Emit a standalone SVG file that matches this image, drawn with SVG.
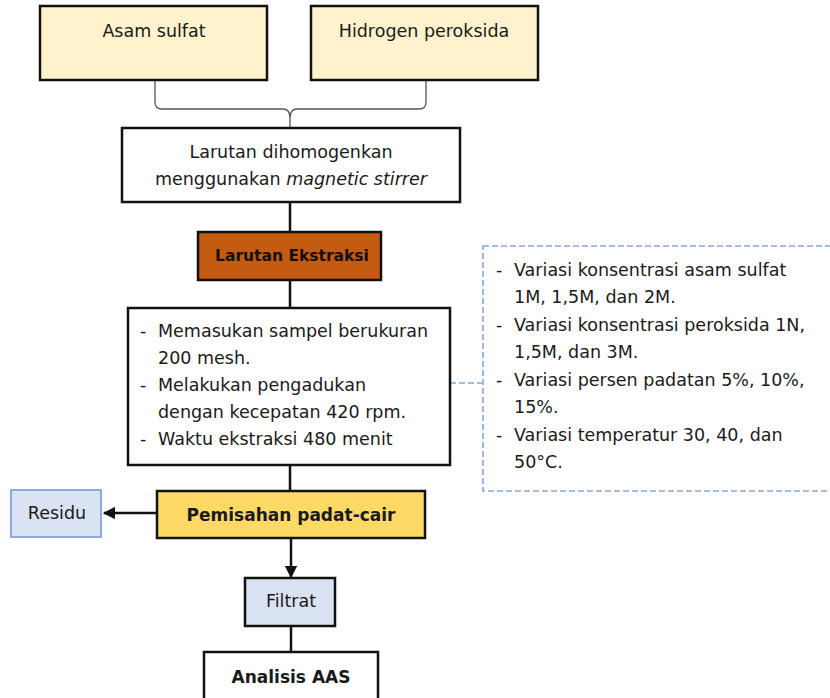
<svg xmlns="http://www.w3.org/2000/svg" width="830" height="698" viewBox="0 0 830 698">
<defs>
<style>
text{font-family:"DejaVu Sans","Liberation Sans",sans-serif;font-size:17.5px;fill:#1a1a1a}
.b{font-weight:bold;font-size:17px}
.box{stroke:#111;stroke-width:2.5}
.ln{stroke:#111;stroke-width:2.5;fill:none}
.dash{fill:none;stroke:#86A5E0;stroke-width:1.6;stroke-dasharray:6,3}
</style>
<marker id="ah" viewBox="0 0 10 10" refX="9" refY="5" markerWidth="5" markerHeight="5" orient="auto" markerUnits="strokeWidth"><path d="M0,0 L10,5 L0,10 z" fill="#111"/></marker>
</defs>
<rect width="830" height="698" fill="#fff"/>
<g id="connectors">
<path d="M155,80 V102 Q155,109 162,109 H283 Q290,109 290,118 V128 M426,80 V102 Q426,109 419,109 H297 Q290,109 290,118" fill="none" stroke="#555" stroke-width="1.3"/>
<line class="ln" x1="290" y1="202" x2="290" y2="232"/>
<line class="ln" x1="290" y1="280" x2="290" y2="308"/>
<line class="ln" x1="290" y1="465" x2="290" y2="491"/>
<line class="dash" x1="450" y1="383" x2="483" y2="383"/>
<line class="ln" x1="157" y1="513" x2="104" y2="513" marker-end="url(#ah)"/>
<line class="ln" x1="291" y1="538" x2="291" y2="577" marker-end="url(#ah)"/>
<line class="ln" x1="291" y1="626" x2="291" y2="652"/>
</g>
<g id="asam">
<rect class="box" x="40" y="6" width="227" height="74" fill="#FFF2CC"/>
<text x="154" y="37" text-anchor="middle">Asam sulfat</text>
</g>
<g id="hidrogen">
<rect class="box" x="311" y="6" width="227" height="74" fill="#FFF2CC"/>
<text x="424" y="37" text-anchor="middle">Hidrogen peroksida</text>
</g>
<g id="homogen">
<rect class="box" x="122" y="128" width="338" height="74" fill="#fff"/>
<text x="291" y="158" text-anchor="middle">Larutan dihomogenkan</text>
<text x="291" y="185" text-anchor="middle">menggunakan <tspan font-style="italic">magnetic stirrer</tspan></text>
</g>
<g id="ekstraksi">
<rect class="box" x="198" y="232" width="183" height="48" fill="#C55A11"/>
<text class="b" x="292" y="261" text-anchor="middle" style="fill:#111;font-size:15.5px">Larutan Ekstraksi</text>
</g>
<g id="proses">
<rect class="box" x="128" y="308" width="322" height="157" fill="#fff"/>
<text x="140" y="337">-</text><text x="158" y="337">Memasukan sampel berukuran</text>
<text x="158" y="364">200 mesh.</text>
<text x="140" y="391">-</text><text x="158" y="391">Melakukan pengadukan</text>
<text x="158" y="418">dengan kecepatan 420 rpm.</text>
<text x="140" y="445">-</text><text x="158" y="445">Waktu ekstraksi 480 menit</text>
</g>
<g id="variasi">
<rect class="dash" x="483" y="246" width="360" height="245"/>
<text x="496" y="276">-</text><text x="514" y="276">Variasi konsentrasi asam sulfat</text>
<text x="514" y="303">1M, 1,5M, dan 2M.</text>
<text x="496" y="331">-</text><text x="514" y="331">Variasi konsentrasi peroksida 1N,</text>
<text x="514" y="358">1,5M, dan 3M.</text>
<text x="496" y="386">-</text><text x="514" y="386">Variasi persen padatan 5%, 10%,</text>
<text x="514" y="413">15%.</text>
<text x="496" y="441">-</text><text x="514" y="441">Variasi temperatur 30, 40, dan</text>
<text x="514" y="468">50°C.</text>
</g>
<g id="pemisahan">
<rect class="box" x="157" y="491" width="268" height="47" fill="#FFD966"/>
<text class="b" x="291" y="521" text-anchor="middle">Pemisahan padat-cair</text>
</g>
<g id="residu">
<rect x="11" y="490" width="90" height="47" fill="#DAE3F3" stroke="#8EA9DB" stroke-width="2"/>
<text x="57" y="519" text-anchor="middle">Residu</text>
</g>
<g id="filtrat">
<rect class="box" x="245" y="578" width="90" height="48" fill="#DAE3F3"/>
<text x="291" y="607" text-anchor="middle">Filtrat</text>
</g>
<g id="aas">
<rect class="box" x="204" y="652" width="174" height="60" fill="#fff"/>
<text class="b" x="291" y="683" text-anchor="middle">Analisis AAS</text>
</g>
</svg>
